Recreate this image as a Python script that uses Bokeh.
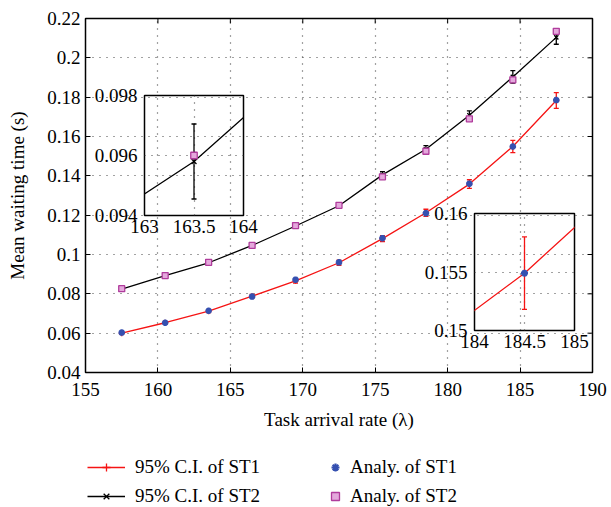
import math
from bokeh.plotting import figure
from bokeh.models import (ColumnDataSource, Whisker, TeeHead, FixedTicker,
                          Legend, LegendItem, Range1d)
from bokeh.embed import file_html
from bokeh.resources import INLINE

# ---------------- data ----------------
lam = [157.5, 160.5, 163.5, 166.5, 169.5, 172.5, 175.5, 178.5, 181.5, 184.5, 187.5]
st1_sim = [0.0600, 0.0653, 0.0712, 0.0788, 0.0866, 0.0958, 0.1081, 0.1212, 0.1358, 0.1549, 0.1783]
st1_ci = [0.0006, 0.0007, 0.0008, 0.0009, 0.0011, 0.0013, 0.0015, 0.0018, 0.0022, 0.0031, 0.0040]
st1_ana = [0.0603, 0.0653, 0.0714, 0.0786, 0.0872, 0.0960, 0.1083, 0.1210, 0.1360, 0.1549, 0.1785]
st2_sim = [0.0824, 0.0893, 0.0958, 0.1046, 0.1145, 0.1248, 0.1405, 0.1535, 0.1708, 0.1903, 0.2104]
st2_ci = [0.0005, 0.0006, 0.00125, 0.0009, 0.0011, 0.0013, 0.0016, 0.0019, 0.0022, 0.0032, 0.0035]
st2_ana = [0.0826, 0.0893, 0.0960, 0.1046, 0.1147, 0.1250, 0.1395, 0.1525, 0.1690, 0.1888, 0.2135]

x_ticks = [155, 160, 165, 170, 175, 180, 185, 190]
x_tick_labels = ["155", "160", "165", "170", "175", "180", "185", "190"]
y_ticks = [0.04, 0.06, 0.08, 0.1, 0.12, 0.14, 0.16, 0.18, 0.2, 0.22]
y_tick_labels = ["0.04", "0.06", "0.08", "0.1", "0.12", "0.14", "0.16", "0.18", "0.2", "0.22"]

in1_x_ticks = [163, 163.5, 164]
in1_x_labels = ["163", "163.5", "164"]
in1_y_ticks = [0.094, 0.096, 0.098]
in1_y_labels = ["0.094", "0.096", "0.098"]
in2_x_ticks = [184, 184.5, 185]
in2_x_labels = ["184", "184.5", "185"]
in2_y_ticks = [0.15, 0.155, 0.16]
in2_y_labels = ["0.15", "0.155", "0.16"]

legend_labels = ["95% C.I. of ST1", "95% C.I. of ST2", "Analy. of ST1", "Analy. of ST2"]
x_title = "Task arrival rate (λ)"
y_title = "Mean waiting time (s)"

# ---------------- style ----------------
FONT = "Liberation Serif"
RED = "#f51414"
BLACK = "#000000"
BLUE = "#3550b0"
MAG = "#b03c9c"
PINK = "#e4a8dc"
GRID = "#444444"

src = ColumnDataSource(dict(
    x=lam,
    st1=st1_sim, st1_lo=[m - c for m, c in zip(st1_sim, st1_ci)], st1_hi=[m + c for m, c in zip(st1_sim, st1_ci)],
    st1a=st1_ana,
    st2=st2_sim, st2_lo=[m - c for m, c in zip(st2_sim, st2_ci)], st2_hi=[m + c for m, c in zip(st2_sim, st2_ci)],
    st2a=st2_ana,
))


def style_axis(ax, ticks, labels, standoff):
    ax.ticker = FixedTicker(ticks=ticks)
    ax.major_label_overrides = {t: l for t, l in zip(ticks, labels)}
    ax.major_label_text_font = FONT
    ax.major_label_text_font_size = "19px"
    ax.major_label_text_color = "black"
    ax.major_label_standoff = standoff
    ax.minor_tick_line_color = None
    ax.axis_line_color = None


def style_grid(f, xt, yt):
    f.xgrid.ticker = FixedTicker(ticks=xt)
    f.ygrid.ticker = FixedTicker(ticks=yt)
    for g in (f.xgrid[0], f.ygrid[0]):
        g.grid_line_color = GRID
        g.grid_line_dash = "1 6"
        g.grid_line_width = 1.2


def draw_series(f, which, big, whiskers=True):
    if which == 1:
        col, y, lo, hi, mk = RED, "st1", "st1_lo", "st1_hi", "cross"
    else:
        col, y, lo, hi, mk = BLACK, "st2", "st2_lo", "st2_hi", "x"
    ln = f.line("x", y, source=src, line_color=col, line_width=1.3)
    if whiskers:
        w = Whisker(source=src, base="x", upper=hi, lower=lo, line_color=col, line_width=1.3,
                    upper_head=TeeHead(size=5, line_color=col, line_width=1.3),
                    lower_head=TeeHead(size=5, line_color=col, line_width=1.3))
        f.add_layout(w)
    mr = f.scatter("x", y, source=src, marker=mk, size=7 if big else 6, line_color=col, line_width=1.3)
    return ln, mr


def draw_analytic(f, which, big):
    if which == 1:
        return f.scatter("x", "st1a", source=src, marker="asterisk", size=7 if big else 6.5,
                         line_color=BLUE, line_width=2.2)
    return f.scatter("x", "st2a", source=src, marker="square", size=6.5 if big else 6,
                     line_color=MAG, fill_color=PINK, line_width=1.3)


def place(f, left, top, w, h):
    f.styles = {"position": "absolute", "left": f"{left}px", "top": f"{top}px",
                "width": f"{w}px", "height": f"{h}px"}


# ---------------- main figure ----------------
p = figure(width=607, height=507, x_range=Range1d(x_ticks[0], x_ticks[-1]),
           y_range=Range1d(y_ticks[0], y_ticks[-1]),
           output_backend="svg", toolbar_location=None,
           min_border_left=85, min_border_right=15, min_border_top=18, min_border_bottom=135,
           background_fill_color="white", border_fill_color="white",
           outline_line_color="black", outline_line_width=1.5)

style_axis(p.xaxis[0], x_ticks, x_tick_labels, 10)
style_axis(p.yaxis[0], y_ticks, y_tick_labels, 5)
for ax in (p.xaxis[0], p.yaxis[0]):
    ax.major_tick_in = 5
    ax.major_tick_out = 0
    ax.major_tick_line_color = "black"
    ax.axis_label_text_font = FONT
    ax.axis_label_text_font_size = "19px"
    ax.axis_label_text_font_style = "normal"
    ax.axis_label_text_color = "black"
p.xaxis[0].axis_label = x_title
p.xaxis[0].axis_label_standoff = 10
p.yaxis[0].axis_label = y_title
p.yaxis[0].axis_label_standoff = 16
style_grid(p, x_ticks, y_ticks)

# inward tick marks on the top and right borders (half of each dash is clipped by the frame)
p.scatter(x_ticks, [y_ticks[-1]] * len(x_ticks), marker="dash", angle=math.pi / 2, size=10,
          line_color="black", line_width=1)
p.scatter([x_ticks[-1]] * len(y_ticks), y_ticks, marker="dash", size=10,
          line_color="black", line_width=1)

draw_series(p, 1, False)
draw_series(p, 2, False)
draw_analytic(p, 1, False)
draw_analytic(p, 2, False)
place(p, 0, 0, 607, 507)

# ---------------- legend panel (separate transparent figure under the axis title) ----------------
lf = figure(width=520, height=77, x_range=Range1d(0, 1), y_range=Range1d(0, 1),
            output_backend="svg", toolbar_location=None, min_border=0,
            background_fill_alpha=0, border_fill_alpha=0, outline_line_color=None)
lf.axis.visible = False
lf.grid.visible = False
# proxies (their data lie outside this panel's ranges, so only the legend glyphs show)
g1l, g1m = draw_series(lf, 1, False, whiskers=False)
g2l, g2m = draw_series(lf, 2, False, whiskers=False)
g3 = draw_analytic(lf, 1, False)
g4 = draw_analytic(lf, 2, False)


def make_legend(items, loc, gw, standoff):
    lg = Legend(items=items, location=loc, orientation="vertical",
                background_fill_alpha=0, border_line_color=None, padding=0, margin=0,
                spacing=7, glyph_width=gw, glyph_height=20, label_standoff=standoff,
                label_text_font=FONT, label_text_font_size="19px", label_text_color="black",
                label_height=22)
    lf.add_layout(lg)


make_legend([LegendItem(label=legend_labels[0], renderers=[g1l, g1m]),
             LegendItem(label=legend_labels[1], renderers=[g2l, g2m])], (2, 0), 38, 10)
make_legend([LegendItem(label=legend_labels[2], renderers=[g3]),
             LegendItem(label=legend_labels[3], renderers=[g4])], (240, 0), 20, 5)
place(lf, 85, 430, 520, 77)


# ---------------- insets ----------------
def make_inset(xt, xl, yt, yl, w, h, left, top, which):
    f = figure(width=w, height=h, x_range=Range1d(xt[0], xt[-1]), y_range=Range1d(yt[0], yt[-1]),
               output_backend="svg", toolbar_location=None,
               min_border_left=60, min_border_right=21, min_border_top=14, min_border_bottom=31,
               background_fill_alpha=0, border_fill_alpha=0,
               outline_line_color="black", outline_line_width=1.5)
    style_axis(f.xaxis[0], xt, xl, 4)
    style_axis(f.yaxis[0], yt, yl, 7)
    for ax in (f.xaxis[0], f.yaxis[0]):
        ax.major_tick_in = 0
        ax.major_tick_out = 0
        ax.major_tick_line_color = None
    style_grid(f, xt, yt)
    draw_series(f, which, True)
    draw_analytic(f, which, True)
    place(f, left, top, w, h)
    return f


ins1 = make_inset(in1_x_ticks, in1_x_labels, in1_y_ticks, in1_y_labels, 180, 165, 84, 81, 2)
ins2 = make_inset(in2_x_ticks, in2_x_labels, in2_y_ticks, in2_y_labels, 181, 162, 414, 199, 1)

open("out.html", "w").write(file_html([p, lf, ins1, ins2], INLINE))
